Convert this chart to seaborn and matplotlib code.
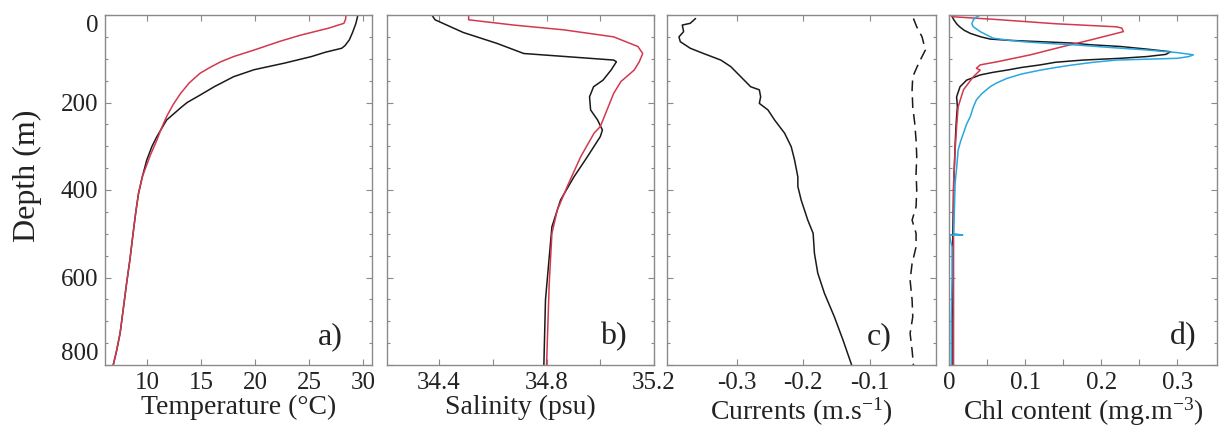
import numpy as np
import pandas as pd
import matplotlib
matplotlib.use("Agg")
import matplotlib.pyplot as plt
import seaborn as sns

# ---------------- data ----------------
# a) Temperature
temp1_depth = [0, 20, 40, 57, 70, 76, 85, 95, 110, 125, 141, 164, 183, 200, 210, 240, 278, 300, 331, 370, 408, 450, 499, 560, 613, 670, 727, 770, 800]
temp1_val   = [29.5, 29.3, 29.0, 28.7, 28.3, 28.0, 26.5, 25.2, 22.7, 19.9, 18.0, 16.2, 14.9, 13.7, 13.2, 11.8, 10.9, 10.45, 9.97, 9.55, 9.2, 8.95, 8.7, 8.4, 8.1, 7.8, 7.5, 7.15, 6.86]
temp2_depth = [0, 10, 19, 30, 46, 60, 80, 95, 107, 120, 133, 155, 179, 205, 232, 260, 286, 320, 370, 408, 450, 499, 560, 613, 670, 727, 770, 800]
temp2_val   = [28.4, 28.35, 28.2, 26.8, 24.2, 22.3, 19.9, 18.0, 16.8, 15.8, 14.9, 13.9, 13.1, 12.4, 11.8, 11.3, 10.9, 10.3, 9.55, 9.2, 8.95, 8.7, 8.4, 8.1, 7.8, 7.5, 7.15, 6.86]

# b) Salinity
sal1_depth = [0, 11, 40, 65, 88, 103, 107, 126, 149, 164, 187, 217, 240, 263, 278, 324, 370, 423, 484, 560, 651, 800]
sal1_val   = [34.373, 34.385, 34.49, 34.616, 34.715, 35.05, 35.06, 35.04, 35.01, 34.975, 34.96, 34.964, 34.99, 35.008, 35.0, 34.952, 34.902, 34.852, 34.82, 34.809, 34.796, 34.79]
sal2_depth = [0, 11, 23, 34, 50, 72, 88, 107, 126, 152, 179, 255, 270, 324, 392, 446, 499, 613, 800]
sal2_val   = [34.51, 34.51, 34.678, 34.865, 35.05, 35.14, 35.158, 35.145, 35.126, 35.077, 35.05, 35.0, 34.977, 34.927, 34.877, 34.84, 34.82, 34.81, 34.80]

# c) Currents
cur1_depth = [8, 19, 23, 38, 50, 61, 76, 88, 103, 118, 141, 164, 171, 187, 202, 217, 240, 270, 301, 331, 370, 392, 423, 469, 499, 545, 590, 636, 690, 743, 800]
cur1_val   = [-0.362, -0.37, -0.382, -0.380, -0.387, -0.385, -0.37, -0.35, -0.324, -0.309, -0.294, -0.279, -0.266, -0.264, -0.266, -0.253, -0.243, -0.228, -0.218, -0.213, -0.208, -0.208, -0.203, -0.193, -0.185, -0.183, -0.178, -0.168, -0.153, -0.14, -0.127]
cur2_depth = [8, 27, 50, 80, 110, 141, 171, 210, 248, 286, 324, 362, 400, 438, 469, 499, 530, 568, 606, 651, 690, 728, 766, 800]
cur2_val   = [-0.034, -0.029, -0.021, -0.016, -0.026, -0.035, -0.036, -0.035, -0.032, -0.030, -0.029, -0.030, -0.029, -0.030, -0.036, -0.030, -0.030, -0.036, -0.039, -0.036, -0.035, -0.039, -0.036, -0.034]

# d) Chl content
chl1_depth = [0, 10, 20, 27, 35, 42, 50, 55, 58, 61, 64, 68, 72, 78, 84, 90, 95, 99, 103, 108, 114, 120, 126, 131, 137, 149, 164, 187, 210, 232, 260, 300, 400, 500, 600, 700, 800]
chl1_val   = [0.003, 0.006, 0.010, 0.014, 0.020, 0.028, 0.042, 0.054, 0.080, 0.120, 0.160, 0.186, 0.225, 0.260, 0.291, 0.285, 0.260, 0.225, 0.176, 0.140, 0.120, 0.095, 0.076, 0.058, 0.041, 0.023, 0.0145, 0.010, 0.011, 0.010, 0.009, 0.008, 0.006, 0.005, 0.005, 0.004, 0.004]
chl2_depth = [0, 4, 10, 20, 27, 30, 38, 42, 57, 72, 91, 107, 114, 122, 126, 141, 171, 210, 255, 309, 385, 500, 600, 800]
chl2_val   = [0.002, 0.005, 0.060, 0.140, 0.220, 0.227, 0.229, 0.220, 0.186, 0.150, 0.107, 0.063, 0.041, 0.036, 0.041, 0.032, 0.019, 0.012, 0.010, 0.008, 0.006, 0.006, 0.006, 0.006]
chl3_depth = [0, 1, 5, 11, 20, 27, 38, 46, 53, 58, 61, 65, 68, 74, 80, 86, 91, 95, 99, 103, 108, 114, 120, 126, 135, 145, 155, 164, 180, 194, 210, 232, 250, 270, 290, 309, 350, 385, 450, 500, 503, 503, 506, 515, 530, 600, 700, 800]
chl3_val   = [0.002, 0.040, 0.036, 0.032, 0.030, 0.032, 0.041, 0.050, 0.058, 0.080, 0.097, 0.130, 0.163, 0.210, 0.260, 0.300, 0.321, 0.315, 0.300, 0.220, 0.190, 0.163, 0.140, 0.120, 0.095, 0.076, 0.063, 0.054, 0.043, 0.036, 0.032, 0.028, 0.023, 0.019, 0.015, 0.012, 0.010, 0.008, 0.007, 0.006, 0.018, 0.001, 0.001, 0.002, 0.004, 0.004, 0.003, 0.003]

x_labels = ["Temperature (°C)", "Salinity (psu)", r"Currents (m.s$^{-1}$)", r"Chl content (mg.m$^{-3}$)"]
panel_letters = ["a)", "b)", "c)", "d)"]
depth_ticks = [0, 200, 400, 600, 800]

# ---------------- style ----------------
sns.set_theme(style="white")
FONT = ["Liberation Serif", "DejaVu Serif"]
plt.rcParams["font.family"] = FONT
plt.rcParams["mathtext.fontset"] = "custom"
plt.rcParams["mathtext.rm"] = "Liberation Serif"
plt.rcParams["mathtext.it"] = "Liberation Serif:italic"

BLACK = "#1a1a1a"
RED = "#d3384f"
CYAN = "#2aa6e0"
SPINE = "#8a8a8a"
TXT = "#222222"

fig = plt.figure(figsize=(12.21, 4.37), dpi=100)
bottom = 1 - 365 / 437
height = 350 / 437
lefts = [105, 387, 667, 949]
widths = [267, 267, 269, 268]
axes = [fig.add_axes([l / 1221, bottom, w / 1221, height]) for l, w in zip(lefts, widths)]

def prof(ax, depth, val, color, **kw):
    df = pd.DataFrame({"depth": depth, "val": val})
    sns.lineplot(data=df, x="val", y="depth", ax=ax, sort=False, estimator=None,
                 color=color, linewidth=1.1, **kw)

# a
prof(axes[0], temp1_depth, temp1_val, BLACK)
prof(axes[0], temp2_depth, temp2_val, RED)
axes[0].set_xlim(6.1, 30.8)
axes[0].set_xticks([10, 15, 20, 25, 30])
axes[0].set_xticklabels(["10", "15", "20", "25", "30"])

# b
prof(axes[1], sal1_depth, sal1_val, BLACK)
prof(axes[1], sal2_depth, sal2_val, RED)
axes[1].set_xlim(34.206, 35.2)
axes[1].set_xticks([34.4, 34.6, 34.8, 35.0, 35.2])
axes[1].set_xticklabels(["34.4", "", "34.8", "", "35.2"])

# c
prof(axes[2], cur1_depth, cur1_val, BLACK)
prof(axes[2], cur2_depth, cur2_val, BLACK)
axes[2].lines[-1].set_linestyle((0, (7, 4)))
axes[2].set_xlim(-0.405, 0.0)
axes[2].set_xticks([-0.3, -0.2, -0.1])
axes[2].set_xticklabels(["-0.3", "-0.2", "-0.1"])

# d
prof(axes[3], chl1_depth, chl1_val, BLACK)
prof(axes[3], chl2_depth, chl2_val, RED)
prof(axes[3], chl3_depth, chl3_val, CYAN)
axes[3].set_xlim(0, 0.352)
axes[3].set_xticks([0, 0.05, 0.1, 0.15, 0.2, 0.25, 0.3])
axes[3].set_xticklabels(["0", "", "0.1", "", "0.2", "", "0.3"])

letter_x = [0.891, 0.899, 0.836, 0.925]
for i, ax in enumerate(axes):
    ax.set_ylim(800, 0)
    ax.set_yticks(depth_ticks)
    ax.set_yticks(np.arange(0, 801, 50), minor=True)
    ax.set_xlabel(x_labels[i], fontsize=20, labelpad=1, color=TXT)
    ax.set_ylabel("")
    for s in ax.spines.values():
        s.set_color(SPINE)
        s.set_linewidth(1.0)
        s.set_visible(True)
    ax.tick_params(axis="both", which="both", direction="in", top=True, right=True,
                   bottom=True, left=True, color=SPINE, width=0.8, labelsize=18,
                   labelcolor=TXT)
    ax.tick_params(axis="both", which="major", length=4)
    ax.tick_params(axis="both", which="minor", length=2.5)
    ax.tick_params(axis="x", pad=5)
    if i > 0:
        ax.set_yticklabels([])
    ax.text(letter_x[i], 0.04, panel_letters[i], transform=ax.transAxes,
            ha="right", va="bottom", fontsize=23, color=TXT)
    if ax.get_legend() is not None:
        ax.get_legend().remove()

axes[0].set_yticklabels([str(t) for t in depth_ticks])
ylabs = axes[0].get_yticklabels()
ylabs[0].set_va("top")
ylabs[-1].set_va("bottom")
axes[0].tick_params(axis="y", pad=5)
axes[0].set_ylabel("Depth (m)", fontsize=23, color=TXT)
axes[0].yaxis.set_label_coords(-0.235, 0.54)

fig.savefig("out.png", dpi=100, facecolor="white")
